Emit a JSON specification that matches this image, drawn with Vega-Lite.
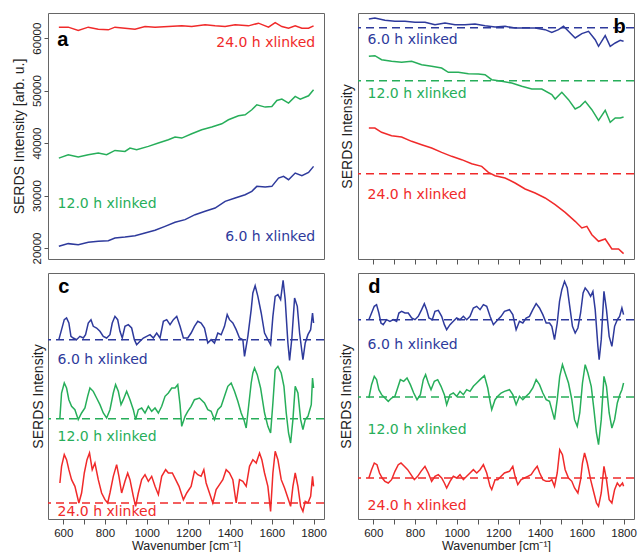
{
  "$schema": "https://vega.github.io/schema/vega-lite/v6.json",
  "background": "white",
  "padding": {"left": 11, "top": 12, "right": 5, "bottom": 0},
  "columns": 2,
  "spacing": {"row": 14, "column": 34},
  "bounds": "flush",
  "config": {
    "view": {"stroke": "#666", "strokeWidth": 1},
    "axis": {"domain": false, "grid": false, "tickColor": "#555", "labelFont": "Liberation Sans", "titleFont": "Liberation Sans", "titleFontWeight": "normal", "labelColor": "#222", "titleColor": "#222"},
    "line": {"strokeWidth": 1.5},
    "text": {"font": "DejaVu Sans", "fontSize": 14}
  },
  "datasets": {
    "a": [
      {"s":"6","x":579,"y":20320},{"s":"6","x":624,"y":20830},{"s":"6","x":672,"y":20640},{"s":"6","x":720,"y":21080},{"s":"6","x":768,"y":21270},{"s":"6","x":816,"y":21400},{"s":"6","x":848,"y":21910},{"s":"6","x":896,"y":22100},{"s":"6","x":944,"y":22350},{"s":"6","x":992,"y":22860},{"s":"6","x":1040,"y":23370},{"s":"6","x":1088,"y":24130},{"s":"6","x":1136,"y":24890},{"s":"6","x":1184,"y":25400},{"s":"6","x":1232,"y":26350},{"s":"6","x":1280,"y":26990},{"s":"6","x":1328,"y":27620},{"s":"6","x":1376,"y":28890},{"s":"6","x":1424,"y":29530},{"s":"6","x":1472,"y":30160},{"s":"6","x":1504,"y":30800},{"s":"6","x":1528,"y":31750},{"s":"6","x":1568,"y":31620},{"s":"6","x":1600,"y":31750},{"s":"6","x":1632,"y":33330},{"s":"6","x":1656,"y":33650},{"s":"6","x":1680,"y":33020},{"s":"6","x":1712,"y":34290},{"s":"6","x":1744,"y":33780},{"s":"6","x":1776,"y":34410},{"s":"6","x":1800,"y":35560},
      {"s":"12","x":579,"y":37140},{"s":"12","x":624,"y":37780},{"s":"12","x":672,"y":37330},{"s":"12","x":720,"y":37780},{"s":"12","x":768,"y":38100},{"s":"12","x":808,"y":37780},{"s":"12","x":848,"y":38600},{"s":"12","x":896,"y":38410},{"s":"12","x":920,"y":39050},{"s":"12","x":952,"y":38730},{"s":"12","x":1008,"y":39370},{"s":"12","x":1056,"y":40000},{"s":"12","x":1104,"y":40640},{"s":"12","x":1136,"y":41140},{"s":"12","x":1168,"y":40950},{"s":"12","x":1216,"y":41780},{"s":"12","x":1264,"y":42540},{"s":"12","x":1312,"y":43050},{"s":"12","x":1360,"y":43680},{"s":"12","x":1392,"y":44450},{"s":"12","x":1440,"y":45210},{"s":"12","x":1472,"y":45400},{"s":"12","x":1504,"y":46350},{"s":"12","x":1528,"y":47300},{"s":"12","x":1568,"y":46860},{"s":"12","x":1600,"y":46980},{"s":"12","x":1624,"y":48130},{"s":"12","x":1648,"y":48380},{"s":"12","x":1680,"y":47620},{"s":"12","x":1712,"y":48890},{"s":"12","x":1736,"y":48380},{"s":"12","x":1776,"y":49020},{"s":"12","x":1800,"y":50160},
      {"s":"24","x":579,"y":62100},{"s":"24","x":624,"y":62100},{"s":"24","x":672,"y":61460},{"s":"24","x":720,"y":62100},{"s":"24","x":768,"y":61710},{"s":"24","x":816,"y":61590},{"s":"24","x":848,"y":62100},{"s":"24","x":896,"y":61900},{"s":"24","x":944,"y":61710},{"s":"24","x":992,"y":62220},{"s":"24","x":1040,"y":62100},{"s":"24","x":1104,"y":62220},{"s":"24","x":1168,"y":62350},{"s":"24","x":1216,"y":62220},{"s":"24","x":1280,"y":62540},{"s":"24","x":1328,"y":62350},{"s":"24","x":1376,"y":62220},{"s":"24","x":1424,"y":62540},{"s":"24","x":1488,"y":62350},{"s":"24","x":1536,"y":62860},{"s":"24","x":1584,"y":62100},{"s":"24","x":1616,"y":62980},{"s":"24","x":1648,"y":62220},{"s":"24","x":1680,"y":61900},{"s":"24","x":1712,"y":62350},{"s":"24","x":1744,"y":61900},{"s":"24","x":1776,"y":61900},{"s":"24","x":1800,"y":62350}
    ],
    "b": [
      {"s":"6","x":579,"y":720},{"s":"6","x":608,"y":723},{"s":"6","x":656,"y":716},{"s":"6","x":704,"y":713},{"s":"6","x":752,"y":713},{"s":"6","x":800,"y":710},{"s":"6","x":848,"y":710},{"s":"6","x":896,"y":703},{"s":"6","x":944,"y":708},{"s":"6","x":992,"y":703},{"s":"6","x":1040,"y":703},{"s":"6","x":1088,"y":705},{"s":"6","x":1136,"y":700},{"s":"6","x":1184,"y":696},{"s":"6","x":1232,"y":698},{"s":"6","x":1280,"y":693},{"s":"6","x":1328,"y":693},{"s":"6","x":1376,"y":693},{"s":"6","x":1424,"y":688},{"s":"6","x":1456,"y":680},{"s":"6","x":1488,"y":688},{"s":"6","x":1512,"y":698},{"s":"6","x":1536,"y":683},{"s":"6","x":1568,"y":663},{"s":"6","x":1600,"y":676},{"s":"6","x":1632,"y":683},{"s":"6","x":1664,"y":658},{"s":"6","x":1680,"y":638},{"s":"6","x":1712,"y":670},{"s":"6","x":1736,"y":638},{"s":"6","x":1760,"y":648},{"s":"6","x":1784,"y":656},{"s":"6","x":1800,"y":653},
      {"s":"12","x":579,"y":608},{"s":"12","x":608,"y":610},{"s":"12","x":640,"y":598},{"s":"12","x":688,"y":593},{"s":"12","x":736,"y":590},{"s":"12","x":784,"y":593},{"s":"12","x":832,"y":583},{"s":"12","x":880,"y":578},{"s":"12","x":928,"y":573},{"s":"12","x":960,"y":560},{"s":"12","x":1008,"y":560},{"s":"12","x":1056,"y":556},{"s":"12","x":1104,"y":555},{"s":"12","x":1136,"y":553},{"s":"12","x":1168,"y":538},{"s":"12","x":1216,"y":533},{"s":"12","x":1264,"y":528},{"s":"12","x":1312,"y":518},{"s":"12","x":1360,"y":510},{"s":"12","x":1408,"y":510},{"s":"12","x":1456,"y":493},{"s":"12","x":1472,"y":480},{"s":"12","x":1504,"y":500},{"s":"12","x":1536,"y":478},{"s":"12","x":1568,"y":450},{"s":"12","x":1592,"y":458},{"s":"12","x":1616,"y":473},{"s":"12","x":1648,"y":448},{"s":"12","x":1680,"y":416},{"s":"12","x":1712,"y":446},{"s":"12","x":1736,"y":410},{"s":"12","x":1760,"y":423},{"s":"12","x":1784,"y":423},{"s":"12","x":1800,"y":426},
      {"s":"24","x":579,"y":393},{"s":"24","x":608,"y":393},{"s":"24","x":640,"y":380},{"s":"24","x":688,"y":370},{"s":"24","x":736,"y":366},{"s":"24","x":784,"y":353},{"s":"24","x":832,"y":343},{"s":"24","x":880,"y":333},{"s":"24","x":928,"y":320},{"s":"24","x":976,"y":308},{"s":"24","x":1024,"y":298},{"s":"24","x":1072,"y":286},{"s":"24","x":1120,"y":278},{"s":"24","x":1152,"y":260},{"s":"24","x":1184,"y":250},{"s":"24","x":1232,"y":243},{"s":"24","x":1280,"y":228},{"s":"24","x":1328,"y":210},{"s":"24","x":1376,"y":198},{"s":"24","x":1424,"y":183},{"s":"24","x":1472,"y":163},{"s":"24","x":1520,"y":140},{"s":"24","x":1568,"y":113},{"s":"24","x":1600,"y":93},{"s":"24","x":1624,"y":98},{"s":"24","x":1648,"y":73},{"s":"24","x":1680,"y":53},{"s":"24","x":1712,"y":60},{"s":"24","x":1744,"y":30},{"s":"24","x":1776,"y":30},{"s":"24","x":1800,"y":16}
    ],
    "c": [
      {"s":"6","x":579,"y":538},{"s":"6","x":592,"y":568},{"s":"6","x":605,"y":598},{"s":"6","x":616,"y":603},{"s":"6","x":627,"y":588},{"s":"6","x":637,"y":548},{"s":"6","x":648,"y":543},{"s":"6","x":664,"y":538},{"s":"6","x":680,"y":548},{"s":"6","x":696,"y":543},{"s":"6","x":707,"y":553},{"s":"6","x":720,"y":588},{"s":"6","x":733,"y":598},{"s":"6","x":744,"y":578},{"s":"6","x":760,"y":573},{"s":"6","x":776,"y":563},{"s":"6","x":792,"y":548},{"s":"6","x":808,"y":543},{"s":"6","x":824,"y":553},{"s":"6","x":835,"y":588},{"s":"6","x":848,"y":608},{"s":"6","x":861,"y":598},{"s":"6","x":872,"y":563},{"s":"6","x":883,"y":543},{"s":"6","x":896,"y":578},{"s":"6","x":912,"y":583},{"s":"6","x":928,"y":573},{"s":"6","x":941,"y":538},{"s":"6","x":952,"y":523},{"s":"6","x":968,"y":533},{"s":"6","x":984,"y":543},{"s":"6","x":1000,"y":548},{"s":"6","x":1016,"y":553},{"s":"6","x":1032,"y":543},{"s":"6","x":1048,"y":558},{"s":"6","x":1064,"y":543},{"s":"6","x":1080,"y":593},{"s":"6","x":1096,"y":598},{"s":"6","x":1112,"y":583},{"s":"6","x":1128,"y":598},{"s":"6","x":1144,"y":608},{"s":"6","x":1160,"y":578},{"s":"6","x":1176,"y":543},{"s":"6","x":1197,"y":543},{"s":"6","x":1213,"y":558},{"s":"6","x":1229,"y":578},{"s":"6","x":1245,"y":593},{"s":"6","x":1261,"y":588},{"s":"6","x":1277,"y":573},{"s":"6","x":1293,"y":528},{"s":"6","x":1309,"y":538},{"s":"6","x":1325,"y":528},{"s":"6","x":1341,"y":558},{"s":"6","x":1357,"y":553},{"s":"6","x":1373,"y":578},{"s":"6","x":1386,"y":613},{"s":"6","x":1397,"y":598},{"s":"6","x":1413,"y":588},{"s":"6","x":1429,"y":568},{"s":"6","x":1445,"y":543},{"s":"6","x":1461,"y":538},{"s":"6","x":1469,"y":488},{"s":"6","x":1485,"y":548},{"s":"6","x":1501,"y":628},{"s":"6","x":1509,"y":678},{"s":"6","x":1520,"y":700},{"s":"6","x":1533,"y":668},{"s":"6","x":1549,"y":618},{"s":"6","x":1565,"y":558},{"s":"6","x":1581,"y":538},{"s":"6","x":1594,"y":523},{"s":"6","x":1605,"y":608},{"s":"6","x":1616,"y":668},{"s":"6","x":1629,"y":673},{"s":"6","x":1642,"y":658},{"s":"6","x":1654,"y":716},{"s":"6","x":1664,"y":658},{"s":"6","x":1677,"y":528},{"s":"6","x":1685,"y":476},{"s":"6","x":1696,"y":543},{"s":"6","x":1709,"y":663},{"s":"6","x":1722,"y":638},{"s":"6","x":1733,"y":558},{"s":"6","x":1749,"y":478},{"s":"6","x":1760,"y":528},{"s":"6","x":1773,"y":553},{"s":"6","x":1786,"y":568},{"s":"6","x":1795,"y":618},{"s":"6","x":1800,"y":588},
      {"s":"12","x":584,"y":303},{"s":"12","x":592,"y":378},{"s":"12","x":605,"y":408},{"s":"12","x":616,"y":393},{"s":"12","x":627,"y":358},{"s":"12","x":640,"y":338},{"s":"12","x":656,"y":328},{"s":"12","x":672,"y":298},{"s":"12","x":688,"y":318},{"s":"12","x":704,"y":333},{"s":"12","x":717,"y":368},{"s":"12","x":728,"y":393},{"s":"12","x":744,"y":383},{"s":"12","x":760,"y":363},{"s":"12","x":776,"y":343},{"s":"12","x":792,"y":318},{"s":"12","x":808,"y":303},{"s":"12","x":824,"y":328},{"s":"12","x":840,"y":378},{"s":"12","x":851,"y":403},{"s":"12","x":864,"y":383},{"s":"12","x":877,"y":343},{"s":"12","x":888,"y":358},{"s":"12","x":904,"y":383},{"s":"12","x":920,"y":358},{"s":"12","x":936,"y":328},{"s":"12","x":947,"y":298},{"s":"12","x":960,"y":328},{"s":"12","x":976,"y":333},{"s":"12","x":992,"y":318},{"s":"12","x":1008,"y":338},{"s":"12","x":1024,"y":323},{"s":"12","x":1040,"y":333},{"s":"12","x":1056,"y":318},{"s":"12","x":1072,"y":338},{"s":"12","x":1088,"y":368},{"s":"12","x":1104,"y":378},{"s":"12","x":1120,"y":393},{"s":"12","x":1136,"y":393},{"s":"12","x":1149,"y":403},{"s":"12","x":1160,"y":343},{"s":"12","x":1168,"y":278},{"s":"12","x":1184,"y":308},{"s":"12","x":1197,"y":323},{"s":"12","x":1213,"y":338},{"s":"12","x":1229,"y":358},{"s":"12","x":1253,"y":363},{"s":"12","x":1277,"y":348},{"s":"12","x":1293,"y":328},{"s":"12","x":1309,"y":323},{"s":"12","x":1325,"y":298},{"s":"12","x":1341,"y":328},{"s":"12","x":1357,"y":338},{"s":"12","x":1373,"y":368},{"s":"12","x":1389,"y":398},{"s":"12","x":1405,"y":408},{"s":"12","x":1421,"y":383},{"s":"12","x":1437,"y":353},{"s":"12","x":1453,"y":318},{"s":"12","x":1466,"y":298},{"s":"12","x":1477,"y":273},{"s":"12","x":1485,"y":318},{"s":"12","x":1501,"y":408},{"s":"12","x":1509,"y":438},{"s":"12","x":1517,"y":453},{"s":"12","x":1530,"y":433},{"s":"12","x":1546,"y":393},{"s":"12","x":1565,"y":318},{"s":"12","x":1581,"y":278},{"s":"12","x":1594,"y":258},{"s":"12","x":1605,"y":348},{"s":"12","x":1616,"y":448},{"s":"12","x":1629,"y":458},{"s":"12","x":1645,"y":438},{"s":"12","x":1658,"y":398},{"s":"12","x":1669,"y":318},{"s":"12","x":1680,"y":258},{"s":"12","x":1690,"y":228},{"s":"12","x":1701,"y":298},{"s":"12","x":1712,"y":398},{"s":"12","x":1725,"y":378},{"s":"12","x":1738,"y":298},{"s":"12","x":1749,"y":268},{"s":"12","x":1760,"y":298},{"s":"12","x":1773,"y":308},{"s":"12","x":1789,"y":343},{"s":"12","x":1795,"y":423},{"s":"12","x":1800,"y":393},
      {"s":"24","x":584,"y":108},{"s":"24","x":592,"y":158},{"s":"24","x":605,"y":193},{"s":"24","x":616,"y":178},{"s":"24","x":627,"y":148},{"s":"24","x":640,"y":118},{"s":"24","x":656,"y":98},{"s":"24","x":675,"y":48},{"s":"24","x":688,"y":78},{"s":"24","x":701,"y":138},{"s":"24","x":714,"y":178},{"s":"24","x":726,"y":198},{"s":"24","x":739,"y":148},{"s":"24","x":752,"y":168},{"s":"24","x":768,"y":118},{"s":"24","x":784,"y":78},{"s":"24","x":800,"y":58},{"s":"24","x":813,"y":48},{"s":"24","x":824,"y":78},{"s":"24","x":840,"y":128},{"s":"24","x":856,"y":163},{"s":"24","x":867,"y":128},{"s":"24","x":880,"y":78},{"s":"24","x":896,"y":113},{"s":"24","x":909,"y":138},{"s":"24","x":920,"y":118},{"s":"24","x":936,"y":68},{"s":"24","x":947,"y":38},{"s":"24","x":960,"y":78},{"s":"24","x":976,"y":118},{"s":"24","x":992,"y":133},{"s":"24","x":1008,"y":113},{"s":"24","x":1024,"y":128},{"s":"24","x":1040,"y":98},{"s":"24","x":1056,"y":73},{"s":"24","x":1072,"y":128},{"s":"24","x":1091,"y":148},{"s":"24","x":1104,"y":138},{"s":"24","x":1123,"y":138},{"s":"24","x":1139,"y":118},{"s":"24","x":1155,"y":98},{"s":"24","x":1176,"y":58},{"s":"24","x":1192,"y":78},{"s":"24","x":1213,"y":98},{"s":"24","x":1229,"y":143},{"s":"24","x":1245,"y":133},{"s":"24","x":1261,"y":128},{"s":"24","x":1274,"y":148},{"s":"24","x":1285,"y":108},{"s":"24","x":1301,"y":78},{"s":"24","x":1317,"y":48},{"s":"24","x":1333,"y":88},{"s":"24","x":1349,"y":103},{"s":"24","x":1365,"y":118},{"s":"24","x":1381,"y":148},{"s":"24","x":1397,"y":138},{"s":"24","x":1413,"y":118},{"s":"24","x":1429,"y":48},{"s":"24","x":1445,"y":118},{"s":"24","x":1461,"y":113},{"s":"24","x":1477,"y":98},{"s":"24","x":1493,"y":158},{"s":"24","x":1509,"y":178},{"s":"24","x":1525,"y":168},{"s":"24","x":1541,"y":198},{"s":"24","x":1552,"y":178},{"s":"24","x":1565,"y":138},{"s":"24","x":1581,"y":98},{"s":"24","x":1594,"y":23},{"s":"24","x":1605,"y":138},{"s":"24","x":1616,"y":203},{"s":"24","x":1629,"y":178},{"s":"24","x":1645,"y":118},{"s":"24","x":1661,"y":93},{"s":"24","x":1677,"y":63},{"s":"24","x":1690,"y":38},{"s":"24","x":1701,"y":98},{"s":"24","x":1712,"y":138},{"s":"24","x":1725,"y":98},{"s":"24","x":1738,"y":38},{"s":"24","x":1749,"y":23},{"s":"24","x":1760,"y":53},{"s":"24","x":1773,"y":48},{"s":"24","x":1786,"y":68},{"s":"24","x":1795,"y":128},{"s":"24","x":1800,"y":98}
    ],
    "d": [
      {"s":"6","x":579,"y":598},{"s":"6","x":592,"y":618},{"s":"6","x":605,"y":638},{"s":"6","x":616,"y":643},{"s":"6","x":627,"y":618},{"s":"6","x":637,"y":588},{"s":"6","x":648,"y":583},{"s":"6","x":664,"y":598},{"s":"6","x":680,"y":593},{"s":"6","x":696,"y":598},{"s":"6","x":712,"y":593},{"s":"6","x":723,"y":618},{"s":"6","x":736,"y":623},{"s":"6","x":752,"y":618},{"s":"6","x":768,"y":618},{"s":"6","x":784,"y":603},{"s":"6","x":800,"y":598},{"s":"6","x":816,"y":608},{"s":"6","x":832,"y":628},{"s":"6","x":845,"y":646},{"s":"6","x":856,"y":628},{"s":"6","x":867,"y":603},{"s":"6","x":883,"y":598},{"s":"6","x":896,"y":623},{"s":"6","x":912,"y":626},{"s":"6","x":928,"y":608},{"s":"6","x":941,"y":583},{"s":"6","x":952,"y":568},{"s":"6","x":968,"y":583},{"s":"6","x":984,"y":593},{"s":"6","x":1000,"y":603},{"s":"6","x":1016,"y":598},{"s":"6","x":1032,"y":608},{"s":"6","x":1048,"y":598},{"s":"6","x":1064,"y":608},{"s":"6","x":1080,"y":633},{"s":"6","x":1096,"y":638},{"s":"6","x":1112,"y":628},{"s":"6","x":1128,"y":643},{"s":"6","x":1144,"y":638},{"s":"6","x":1160,"y":608},{"s":"6","x":1176,"y":583},{"s":"6","x":1197,"y":598},{"s":"6","x":1213,"y":608},{"s":"6","x":1229,"y":623},{"s":"6","x":1253,"y":628},{"s":"6","x":1269,"y":613},{"s":"6","x":1285,"y":568},{"s":"6","x":1301,"y":593},{"s":"6","x":1317,"y":588},{"s":"6","x":1333,"y":603},{"s":"6","x":1349,"y":608},{"s":"6","x":1365,"y":628},{"s":"6","x":1381,"y":646},{"s":"6","x":1397,"y":633},{"s":"6","x":1413,"y":613},{"s":"6","x":1429,"y":588},{"s":"6","x":1445,"y":588},{"s":"6","x":1456,"y":578},{"s":"6","x":1469,"y":538},{"s":"6","x":1482,"y":588},{"s":"6","x":1493,"y":653},{"s":"6","x":1504,"y":688},{"s":"6","x":1517,"y":713},{"s":"6","x":1530,"y":693},{"s":"6","x":1542,"y":638},{"s":"6","x":1555,"y":578},{"s":"6","x":1568,"y":558},{"s":"6","x":1581,"y":573},{"s":"6","x":1594,"y":618},{"s":"6","x":1606,"y":678},{"s":"6","x":1616,"y":693},{"s":"6","x":1629,"y":683},{"s":"6","x":1642,"y":668},{"s":"6","x":1653,"y":683},{"s":"6","x":1664,"y":628},{"s":"6","x":1677,"y":518},{"s":"6","x":1683,"y":478},{"s":"6","x":1693,"y":538},{"s":"6","x":1706,"y":683},{"s":"6","x":1718,"y":628},{"s":"6","x":1731,"y":548},{"s":"6","x":1744,"y":518},{"s":"6","x":1757,"y":578},{"s":"6","x":1770,"y":598},{"s":"6","x":1781,"y":608},{"s":"6","x":1792,"y":633},{"s":"6","x":1800,"y":613},
      {"s":"12","x":579,"y":363},{"s":"12","x":592,"y":403},{"s":"12","x":605,"y":428},{"s":"12","x":616,"y":418},{"s":"12","x":627,"y":388},{"s":"12","x":640,"y":373},{"s":"12","x":656,"y":363},{"s":"12","x":672,"y":353},{"s":"12","x":688,"y":363},{"s":"12","x":704,"y":368},{"s":"12","x":717,"y":393},{"s":"12","x":730,"y":418},{"s":"12","x":746,"y":413},{"s":"12","x":762,"y":423},{"s":"12","x":778,"y":403},{"s":"12","x":794,"y":378},{"s":"12","x":810,"y":358},{"s":"12","x":826,"y":373},{"s":"12","x":840,"y":418},{"s":"12","x":851,"y":433},{"s":"12","x":864,"y":408},{"s":"12","x":877,"y":388},{"s":"12","x":893,"y":413},{"s":"12","x":909,"y":418},{"s":"12","x":925,"y":398},{"s":"12","x":941,"y":373},{"s":"12","x":952,"y":343},{"s":"12","x":968,"y":373},{"s":"12","x":984,"y":378},{"s":"12","x":1000,"y":368},{"s":"12","x":1016,"y":383},{"s":"12","x":1032,"y":373},{"s":"12","x":1048,"y":388},{"s":"12","x":1064,"y":383},{"s":"12","x":1080,"y":398},{"s":"12","x":1096,"y":408},{"s":"12","x":1112,"y":418},{"s":"12","x":1133,"y":430},{"s":"12","x":1149,"y":393},{"s":"12","x":1160,"y":353},{"s":"12","x":1168,"y":328},{"s":"12","x":1184,"y":358},{"s":"12","x":1197,"y":368},{"s":"12","x":1213,"y":378},{"s":"12","x":1229,"y":383},{"s":"12","x":1253,"y":388},{"s":"12","x":1269,"y":373},{"s":"12","x":1285,"y":343},{"s":"12","x":1301,"y":368},{"s":"12","x":1317,"y":358},{"s":"12","x":1333,"y":368},{"s":"12","x":1349,"y":378},{"s":"12","x":1365,"y":393},{"s":"12","x":1381,"y":418},{"s":"12","x":1397,"y":403},{"s":"12","x":1413,"y":378},{"s":"12","x":1429,"y":358},{"s":"12","x":1445,"y":353},{"s":"12","x":1456,"y":328},{"s":"12","x":1469,"y":298},{"s":"12","x":1482,"y":358},{"s":"12","x":1494,"y":428},{"s":"12","x":1507,"y":463},{"s":"12","x":1520,"y":438},{"s":"12","x":1536,"y":408},{"s":"12","x":1552,"y":358},{"s":"12","x":1565,"y":298},{"s":"12","x":1578,"y":278},{"s":"12","x":1590,"y":318},{"s":"12","x":1603,"y":408},{"s":"12","x":1616,"y":463},{"s":"12","x":1629,"y":438},{"s":"12","x":1645,"y":398},{"s":"12","x":1658,"y":328},{"s":"12","x":1670,"y":258},{"s":"12","x":1680,"y":223},{"s":"12","x":1693,"y":298},{"s":"12","x":1706,"y":428},{"s":"12","x":1718,"y":398},{"s":"12","x":1731,"y":318},{"s":"12","x":1744,"y":273},{"s":"12","x":1757,"y":298},{"s":"12","x":1770,"y":348},{"s":"12","x":1782,"y":373},{"s":"12","x":1792,"y":388},{"s":"12","x":1800,"y":408},
      {"s":"24","x":579,"y":123},{"s":"24","x":592,"y":148},{"s":"24","x":605,"y":168},{"s":"24","x":618,"y":163},{"s":"24","x":630,"y":138},{"s":"24","x":643,"y":123},{"s":"24","x":656,"y":113},{"s":"24","x":672,"y":108},{"s":"24","x":688,"y":118},{"s":"24","x":704,"y":143},{"s":"24","x":720,"y":163},{"s":"24","x":733,"y":168},{"s":"24","x":749,"y":158},{"s":"24","x":765,"y":148},{"s":"24","x":781,"y":133},{"s":"24","x":797,"y":118},{"s":"24","x":813,"y":128},{"s":"24","x":829,"y":143},{"s":"24","x":848,"y":158},{"s":"24","x":864,"y":138},{"s":"24","x":880,"y":113},{"s":"24","x":896,"y":128},{"s":"24","x":912,"y":133},{"s":"24","x":928,"y":123},{"s":"24","x":941,"y":108},{"s":"24","x":952,"y":93},{"s":"24","x":968,"y":113},{"s":"24","x":984,"y":128},{"s":"24","x":1000,"y":123},{"s":"24","x":1016,"y":133},{"s":"24","x":1032,"y":118},{"s":"24","x":1048,"y":128},{"s":"24","x":1064,"y":138},{"s":"24","x":1080,"y":148},{"s":"24","x":1096,"y":138},{"s":"24","x":1112,"y":148},{"s":"24","x":1128,"y":163},{"s":"24","x":1144,"y":138},{"s":"24","x":1160,"y":98},{"s":"24","x":1168,"y":88},{"s":"24","x":1184,"y":118},{"s":"24","x":1197,"y":118},{"s":"24","x":1213,"y":128},{"s":"24","x":1229,"y":138},{"s":"24","x":1253,"y":143},{"s":"24","x":1269,"y":158},{"s":"24","x":1280,"y":128},{"s":"24","x":1293,"y":103},{"s":"24","x":1309,"y":118},{"s":"24","x":1325,"y":123},{"s":"24","x":1341,"y":128},{"s":"24","x":1357,"y":133},{"s":"24","x":1373,"y":148},{"s":"24","x":1386,"y":158},{"s":"24","x":1398,"y":138},{"s":"24","x":1413,"y":118},{"s":"24","x":1429,"y":113},{"s":"24","x":1445,"y":113},{"s":"24","x":1456,"y":118},{"s":"24","x":1469,"y":98},{"s":"24","x":1482,"y":138},{"s":"24","x":1494,"y":208},{"s":"24","x":1507,"y":193},{"s":"24","x":1520,"y":148},{"s":"24","x":1536,"y":123},{"s":"24","x":1552,"y":113},{"s":"24","x":1565,"y":93},{"s":"24","x":1581,"y":78},{"s":"24","x":1594,"y":118},{"s":"24","x":1603,"y":168},{"s":"24","x":1613,"y":198},{"s":"24","x":1626,"y":168},{"s":"24","x":1642,"y":118},{"s":"24","x":1658,"y":78},{"s":"24","x":1670,"y":48},{"s":"24","x":1680,"y":38},{"s":"24","x":1693,"y":78},{"s":"24","x":1706,"y":158},{"s":"24","x":1718,"y":118},{"s":"24","x":1731,"y":58},{"s":"24","x":1744,"y":48},{"s":"24","x":1757,"y":88},{"s":"24","x":1770,"y":108},{"s":"24","x":1782,"y":98},{"s":"24","x":1795,"y":108},{"s":"24","x":1800,"y":98}
    ]
  },
  "concat": [
    {
      "width": 276, "height": 246,
      "encoding": {
        "x": {"field": "x", "type": "quantitative", "scale": {"domain": [527, 1850], "nice": false, "zero": false}, "axis": null},
        "y": {"field": "y", "type": "quantitative", "scale": {"domain": [17900, 64800], "nice": false, "zero": false},
              "axis": {"values": [20000, 30000, 40000, 50000, 60000], "format": "d", "labelAngle": -90, "labelAlign": "center", "labelBaseline": "bottom", "tickSize": 4, "labelPadding": 2, "labelFontSize": 11.5, "title": "SERDS Intensity [arb. u.]", "titleFontSize": 14, "titlePadding": 5}},
        "color": {"field": "s", "type": "nominal", "scale": {"domain": ["6", "12", "24"], "range": ["#2e3a9c", "#27ae5a", "#f02a2a"]}, "legend": null}
      },
      "layer": [
        {"data": {"name": "a"}, "mark": {"type": "line", "strokeWidth": 1.5}},
        {"data": {"values": [{"s": "24", "x": 1808, "y": 59100, "t": "24.0 h xlinked"}, {"s": "6", "x": 1808, "y": 22100, "t": "6.0 h xlinked"}]},
         "mark": {"type": "text", "align": "right", "baseline": "middle"}, "encoding": {"text": {"field": "t"}}},
        {"data": {"values": [{"s": "12", "x": 573, "y": 28470, "t": "12.0 h xlinked"}]},
         "mark": {"type": "text", "align": "left", "baseline": "middle"}, "encoding": {"text": {"field": "t"}}},
        {"data": {"values": [{"x": 571, "y": 58480, "t": "a"}]},
         "mark": {"type": "text", "align": "left", "baseline": "alphabetic", "font": "Liberation Sans", "fontWeight": "bold", "fontSize": 20, "color": "black"},
         "encoding": {"text": {"field": "t"}, "color": {"value": "black"}}}
      ]
    },
    {
      "width": 276, "height": 246,
      "encoding": {
        "x": {"field": "x", "type": "quantitative", "scale": {"domain": [527, 1850], "nice": false, "zero": false},
              "axis": {"values": [600, 700, 800, 900, 1000, 1100, 1200, 1300, 1400, 1500, 1600, 1700, 1800], "labels": false, "tickSize": 5, "title": null}},
        "y": {"field": "y", "type": "quantitative", "scale": {"domain": [0, 738], "nice": false, "zero": false},
              "axis": {"labels": false, "ticks": false, "title": "SERDS Intensity", "titleFontSize": 14, "titlePadding": 4}},
        "color": {"field": "s", "type": "nominal", "scale": {"domain": ["6", "12", "24"], "range": ["#2e3a9c", "#27ae5a", "#f02a2a"]}, "legend": null}
      },
      "layer": [
        {"data": {"values": [{"s": "6", "y": 694}, {"s": "12", "y": 535}, {"s": "24", "y": 256}]},
         "mark": {"type": "rule", "strokeDash": [8, 5], "strokeWidth": 1.5}, "encoding": {"x": null}},
        {"data": {"name": "b"}, "mark": {"type": "line", "strokeWidth": 1.5}},
        {"data": {"values": [{"s": "6", "x": 573, "y": 658, "t": "6.0 h xlinked"}, {"s": "12", "x": 573, "y": 496, "t": "12.0 h xlinked"}, {"s": "24", "x": 573, "y": 193, "t": "24.0 h xlinked"}]},
         "mark": {"type": "text", "align": "left", "baseline": "middle"}, "encoding": {"text": {"field": "t"}}},
        {"data": {"values": [{"x": 1810, "y": 678, "t": "b"}]},
         "mark": {"type": "text", "align": "right", "baseline": "alphabetic", "font": "Liberation Sans", "fontWeight": "bold", "fontSize": 20},
         "encoding": {"text": {"field": "t"}, "color": {"value": "black"}}}
      ]
    },
    {
      "width": 276, "height": 246,
      "encoding": {
        "x": {"field": "x", "type": "quantitative", "scale": {"domain": [527, 1850], "nice": false, "zero": false},
              "axis": {"values": [600, 700, 800, 900, 1000, 1100, 1200, 1300, 1400, 1500, 1600, 1700, 1800], "format": "d", "labelExpr": "datum.value % 200 == 0 ? datum.label : ''", "tickSize": 5, "labelPadding": 3, "labelFontSize": 11.5, "title": "Wavenumber [cm⁻¹]", "titleFontSize": 12.5, "titlePadding": 1}},
        "y": {"field": "y", "type": "quantitative", "scale": {"domain": [0, 738], "nice": false, "zero": false},
              "axis": {"labels": false, "ticks": false, "title": "SERDS Intensity", "titleFontSize": 14, "titlePadding": 3}},
        "color": {"field": "s", "type": "nominal", "scale": {"domain": ["6", "12", "24"], "range": ["#2e3a9c", "#27ae5a", "#f02a2a"]}, "legend": null}
      },
      "layer": [
        {"data": {"values": [{"s": "6", "y": 538}, {"s": "12", "y": 301}, {"s": "24", "y": 48}]},
         "mark": {"type": "rule", "strokeDash": [8, 5], "strokeWidth": 1.5}, "encoding": {"x": null}},
        {"data": {"name": "c"}, "mark": {"type": "line", "strokeWidth": 1.5}},
        {"data": {"values": [{"s": "6", "x": 573, "y": 476, "t": "6.0 h xlinked"}, {"s": "12", "x": 573, "y": 245, "t": "12.0 h xlinked"}, {"s": "24", "x": 573, "y": 20, "t": "24.0 h xlinked"}]},
         "mark": {"type": "text", "align": "left", "baseline": "middle"}, "encoding": {"text": {"field": "t"}}},
        {"data": {"values": [{"x": 576, "y": 678, "t": "c"}]},
         "mark": {"type": "text", "align": "left", "baseline": "alphabetic", "font": "Liberation Sans", "fontWeight": "bold", "fontSize": 20},
         "encoding": {"text": {"field": "t"}, "color": {"value": "black"}}}
      ]
    },
    {
      "width": 276, "height": 246,
      "encoding": {
        "x": {"field": "x", "type": "quantitative", "scale": {"domain": [527, 1850], "nice": false, "zero": false},
              "axis": {"values": [600, 700, 800, 900, 1000, 1100, 1200, 1300, 1400, 1500, 1600, 1700, 1800], "format": "d", "labelExpr": "datum.value % 200 == 0 ? datum.label : ''", "tickSize": 5, "labelPadding": 3, "labelFontSize": 11.5, "title": "Wavenumber [cm⁻¹]", "titleFontSize": 12.5, "titlePadding": 1}},
        "y": {"field": "y", "type": "quantitative", "scale": {"domain": [0, 738], "nice": false, "zero": false},
              "axis": {"labels": false, "ticks": false, "title": "SERDS Intensity", "titleFontSize": 14, "titlePadding": 5}},
        "color": {"field": "s", "type": "nominal", "scale": {"domain": ["6", "12", "24"], "range": ["#2e3a9c", "#27ae5a", "#f02a2a"]}, "legend": null}
      },
      "layer": [
        {"data": {"values": [{"s": "6", "y": 598}, {"s": "12", "y": 366}, {"s": "24", "y": 123}]},
         "mark": {"type": "rule", "strokeDash": [8, 5], "strokeWidth": 1.5}, "encoding": {"x": null}},
        {"data": {"name": "d"}, "mark": {"type": "line", "strokeWidth": 1.5}},
        {"data": {"values": [{"s": "6", "x": 573, "y": 523, "t": "6.0 h xlinked"}, {"s": "12", "x": 573, "y": 268, "t": "12.0 h xlinked"}, {"s": "24", "x": 573, "y": 38, "t": "24.0 h xlinked"}]},
         "mark": {"type": "text", "align": "left", "baseline": "middle"}, "encoding": {"text": {"field": "t"}}},
        {"data": {"values": [{"x": 576, "y": 678, "t": "d"}]},
         "mark": {"type": "text", "align": "left", "baseline": "alphabetic", "font": "Liberation Sans", "fontWeight": "bold", "fontSize": 20},
         "encoding": {"text": {"field": "t"}, "color": {"value": "black"}}}
      ]
    }
  ]
}
